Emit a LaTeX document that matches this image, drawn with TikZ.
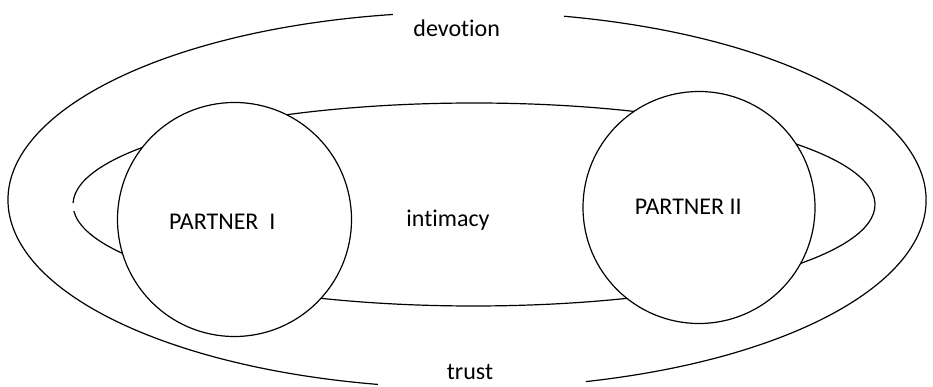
\documentclass[tikz,border=0pt]{standalone}
\usepackage{fontspec}
\setmainfont{Carlito}[Ligatures={NoCommon,NoRequired,NoContextual}]
\begin{document}
\begin{tikzpicture}[x=1pt,y=1pt,
  line/.style={line width=1.2pt, black},
  partner/.style={circle, draw, line width=1.2pt, fill=white, inner sep=0pt},
  lbl/.style={anchor=base, inner sep=0pt, font=\fontsize{24}{28}\selectfont}]
\useasboundingbox (0,0) rectangle (933,387);
% outer ellipse (devotion / trust), with gaps for the labels
\draw[line] (467,187) ++(99.3:459 and 188) arc[start angle=99.3, end angle=258.8, x radius=459, y radius=188];
\draw[line] (467,187) ++(-75:459 and 188) arc[start angle=-75, end angle=77.8, x radius=459, y radius=188];
% inner ellipse (intimacy)
\draw[line] (474,182.5) ++(183.7:401 and 101.5) arc[start angle=183.7, end angle=539.2, x radius=401, y radius=101.5];
% partner circles
\node[partner, minimum size=234pt] (c1) at (234.5,167.5) {};
\node[partner, minimum size=232pt] (c2) at (699,179.5) {};
% labels
\node[lbl] (devotion) at (456.7,350.3) {devotion};
\node[lbl] (trust) at (470,7) {trust};
\node[lbl] (intimacy) at (448,160.3) {intimacy};
\node[lbl] (p1) at (222.3,157) {PARTNER\ \ I};
\node[lbl] (p2) at (688.3,172) {PARTNER II};
\end{tikzpicture}
\end{document}
